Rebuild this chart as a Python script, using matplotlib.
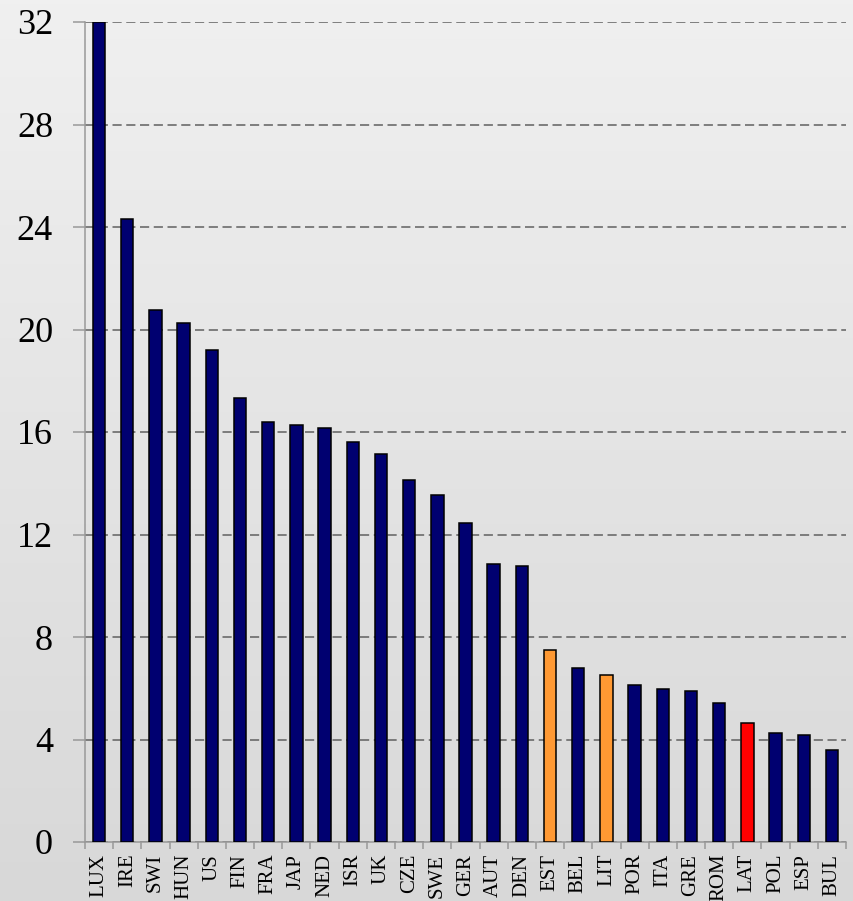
import numpy as np
import matplotlib
matplotlib.use("Agg")
import matplotlib.pyplot as plt

categories = ["LUX", "IRE", "SWI", "HUN", "US", "FIN", "FRA", "JAP", "NED", "ISR",
              "UK", "CZE", "SWE", "GER", "AUT", "DEN", "EST", "BEL", "LIT", "POR",
              "ITA", "GRE", "ROM", "LAT", "POL", "ESP", "BUL"]
values = [32.0, 24.3, 20.77, 20.25, 19.19, 17.34, 16.38, 16.27, 16.16, 15.61,
          15.13, 14.14, 13.54, 12.45, 10.85, 10.78, 7.49, 6.80, 6.52, 6.13,
          5.96, 5.89, 5.41, 4.63, 4.27, 4.18, 3.58]
highlight_orange = ["EST", "LIT"]
highlight_red = ["LAT"]
y_ticks = [0, 4, 8, 12, 16, 20, 24, 28, 32]

NAVY = "#000070"
ORANGE = "#FF9933"
RED = "#FF0000"
colors = [ORANGE if c in highlight_orange else RED if c in highlight_red else NAVY
          for c in categories]

fig = plt.figure(figsize=(8.54, 9.01), dpi=100)

# gradient background
bg = fig.add_axes([0, 0, 1, 1], zorder=-10)
grad = np.linspace(0, 1, 256).reshape(-1, 1)
top = np.array([0xf0, 0xf0, 0xf0]) / 255
bot = np.array([0xd8, 0xd8, 0xd8]) / 255
img = top[None, None, :] * (1 - grad[:, :, None]) + bot[None, None, :] * grad[:, :, None]
bg.imshow(img, aspect="auto", extent=[0, 1, 0, 1], origin="upper")
bg.axis("off")

ax = fig.add_axes([85 / 854, 1 - 842 / 901, (846 - 85) / 854, (842 - 22) / 901])
ax.set_facecolor("none")

x = np.arange(len(categories))
ax.bar(x, values, width=0.44, color=colors, edgecolor="black", linewidth=1.1, zorder=3)

ax.set_xlim(-0.5, len(categories) - 0.5)
ax.set_ylim(0, 32)
ax.set_yticks(y_ticks)
ax.set_yticklabels([str(t) for t in y_ticks], fontsize=26, family="Liberation Serif")
ax.yaxis.grid(True, color="#606060", linestyle=(0, (6, 3)), linewidth=1.1, zorder=1)
ax.set_axisbelow(True)

ax.set_xticks(x)
ax.set_xticklabels(categories, rotation=90, fontsize=15, family="Liberation Serif",
                   va="top", ha="center")
ax.set_xticks(np.arange(len(categories) + 1) - 0.5, minor=True)
ax.tick_params(axis="x", which="major", length=0, pad=8.5)
ax.tick_params(axis="x", which="minor", length=5, width=1.1, color="#999999", direction="out")
ax.tick_params(axis="y", length=9, width=1.1, color="#999999", direction="out", pad=14)

for s in ["top", "right"]:
    ax.spines[s].set_visible(False)
for s in ["left", "bottom"]:
    ax.spines[s].set_color("#999999")
    ax.spines[s].set_linewidth(1.1)

fig.savefig("out.png", dpi=100)
